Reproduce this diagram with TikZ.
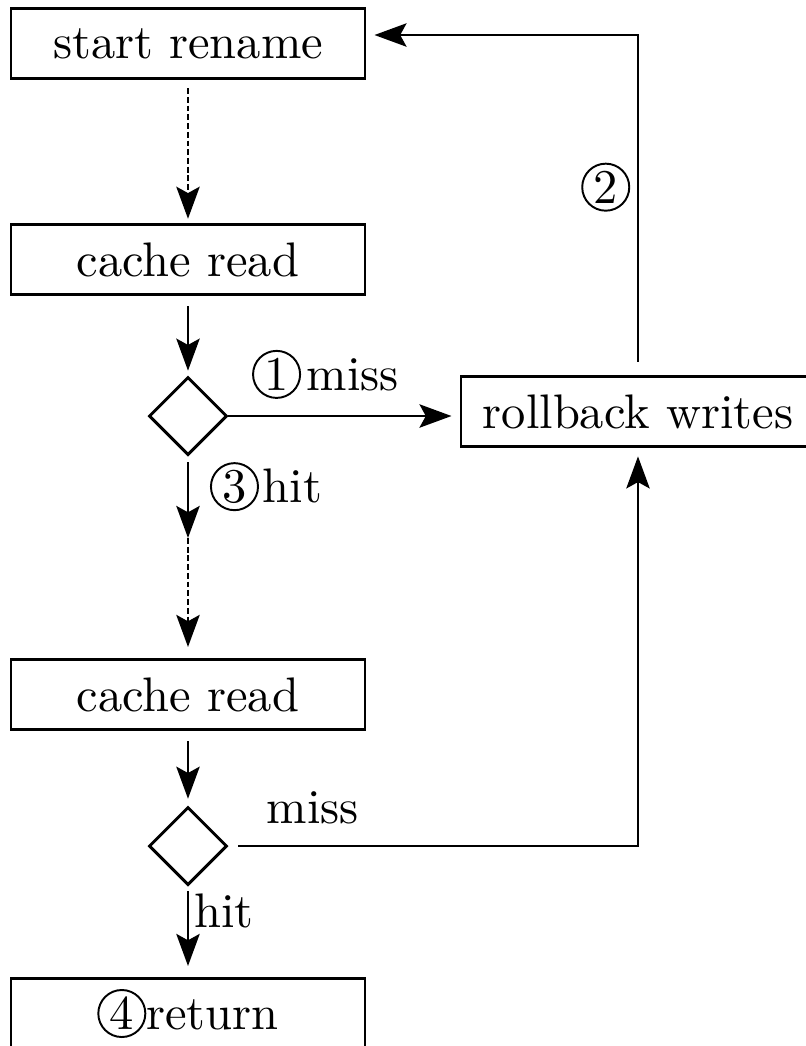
\documentclass[tikz,border=0pt]{standalone}
\usetikzlibrary{shapes.geometric,arrows.meta}
\newcommand{\cnum}[1]{\tikz[baseline=(cn.base)]\node[draw,circle,line width=0.4pt,inner sep=0pt,minimum size=9.7pt](cn){#1};}
\begin{document}
\begin{tikzpicture}[x=0.2062pt,y=-0.2062pt,
  box/.style={draw,line width=0.6pt,rectangle,minimum width=73pt,minimum height=14.6pt,inner sep=0pt},
  dia/.style={draw,line width=0.6pt,diamond,minimum width=16.1pt,minimum height=16.1pt,inner sep=0pt},
  conn/.style={line width=0.6pt,-{Stealth[length=6.6pt,width=4.8pt,inset=1.3pt]}},
  dsh/.style={dash pattern=on 1.2pt off 0.6pt}]
\useasboundingbox (0,0) rectangle (806,1046);
\node[box] (start) at (188,43.5) {start rename};
\node[box] (c1) at (188,259.5) {cache read};
\node[dia] (d1) at (188,416) {};
\node[box] (rb) at (638,411.5) {rollback writes};
\coordinate (mid) at (188,538);
\node[box] (c2) at (188,694.5) {cache read};
\node[dia] (d2) at (188,846) {};
\node[box] (ret) at (188,1013.5) {\cnum{4}return};
\coordinate (top) at (638,35);
% edges
\draw[conn,dsh,shorten <=1.6pt,shorten >=0.8pt] (start) -- (c1);
\draw[conn,shorten <=2pt,shorten >=1pt] (c1) -- (d1);
\draw[conn,shorten >=1.65pt] (d1.east) -- (d1 -| rb.west)
  node[above,pos=0.42] {\cnum{1}\kern1.2pt miss};
\draw[conn,shorten <=1.2pt] (d1.south) -- (mid)
  node[right,pos=0.37,xshift=1pt] {\cnum{3}\kern0.8pt hit};
\draw[conn,dsh,shorten >=2.2pt] (mid) -- (c2);
\draw[conn,shorten <=2pt,shorten >=1.4pt] (c2) -- (d2);
\draw[conn,shorten <=2pt,shorten >=1.65pt] (d2.east) -| (rb.south)
  node[above,pos=0.103,yshift=1pt] {miss};
\draw[conn,shorten <=1pt,shorten >=2.2pt] (d2.south) -- (ret.north)
  node[right,pos=0.27,inner sep=1pt] {hit};
\draw[conn,shorten <=2.7pt,shorten >=1.65pt] (rb.north) |- (top -| start.east)
  node[left,pos=0.276,inner sep=1.4pt] {\cnum{2}};
\end{tikzpicture}
\end{document}
